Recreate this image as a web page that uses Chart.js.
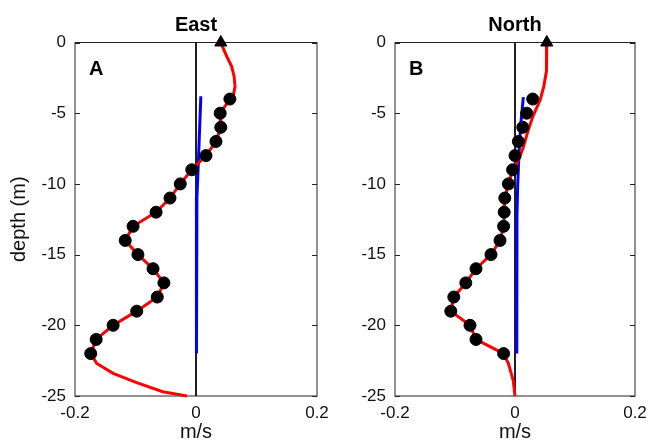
<!DOCTYPE html>
<html><head><meta charset="utf-8">
<script src="https://cdn.jsdelivr.net/npm/chart.js@4"></script>
<style>
html,body{margin:0;padding:0;background:#fff;}
#wrap{position:relative;width:650px;height:444px;overflow:hidden;}
canvas{position:absolute;top:0;}
#c1{left:0;} #c2{left:330px;}
</style></head><body>
<div id="wrap"><canvas id="c1" width="330" height="444"></canvas><canvas id="c2" width="320" height="444"></canvas></div>
<script>
// ---- data ----
const depthTicks = [0, -5, -10, -15, -20, -25];
const speedTicks = [-0.2, 0, 0.2];
const panelTitles = ['East', 'North'];
const panelLetters = ['A', 'B'];

const obsDepth = [-4,-5,-6,-7,-8,-9,-10,-11,-12,-13,-14,-15,-16,-17,-18,-19,-20,-21,-22];
const eastObs  = [0.056,0.040,0.041,0.033,0.0165,-0.007,-0.026,-0.043,-0.066,-0.104,-0.117,-0.096,-0.071,-0.053,-0.064,-0.098,-0.137,-0.165,-0.174];
const northObs = [0.0295,0.0195,0.013,0.0056,0.000,-0.004,-0.011,-0.017,-0.018,-0.019,-0.025,-0.040,-0.065,-0.082,-0.102,-0.107,-0.075,-0.065,-0.019];

// red model profile pieces
const eastTopDepth = [0,-0.5,-1,-1.7,-2.4,-3.1,-3.7];
const eastTopSpeed = [0.041,0.046,0.051,0.059,0.063,0.0645,0.062];
const eastBotDepth = [-22.7,-23.4,-24.05,-24.7,-25];
const eastBotSpeed = [-0.164,-0.137,-0.098,-0.055,-0.015];

const northTopDepth = [0,-1,-2,-3.1,-4.05,-5.2,-6.2,-7.4,-8.3];
const northTopSpeed = [0.053,0.053,0.052,0.048,0.042,0.030,0.022,0.014,0.006];
const northBotDepth = [-22.7,-23.9,-25];
const northBotSpeed = [-0.011,-0.003,0];

// blue profile
const eastBlueDepth = [-3.8,-7.8,-11,-16,-22];
const eastBlueSpeed = [0.008,0.0045,0.0015,0.001,0.0005];
const northBlueDepth = [-3.86,-5.9,-7.8,-10.2,-12.3,-17,-22];
const northBlueSpeed = [0.0139,0.0094,0.0067,0.0044,0.0033,0.003,0.003];

// surface triangles
const eastSurface = 0.041;
const northSurface = 0.053;
const zeroLineDepth = [0, -25];

// ---- helpers ----
const pts = (xs, ys) => xs.map((x, i) => ({x: x, y: ys[i]}));
const FAM = '"Liberation Sans", Arial, Helvetica, sans-serif';

const panelDeco = {
  id: 'panelDeco',
  beforeDatasetsDraw(chart, args, o) {
    const {ctx, chartArea: a, scales} = chart;
    ctx.save();
    ctx.strokeStyle = '#222';
    ctx.lineWidth = 1;
    ctx.strokeRect(a.left, a.top, a.right - a.left, a.bottom - a.top);
    ctx.beginPath();
    depthTicks.forEach(v => {
      const y = Math.round(scales.y.getPixelForValue(v)) + 0.5;
      ctx.moveTo(a.left, y); ctx.lineTo(a.left + 5, y);
      ctx.moveTo(a.right, y); ctx.lineTo(a.right - 5, y);
    });
    ctx.stroke();
    ctx.fillStyle = '#000';
    ctx.font = 'bold 20px ' + FAM;
    ctx.textAlign = 'center';
    ctx.textBaseline = 'alphabetic';
    ctx.fillText(o.title, (a.left + a.right) / 2, 31);
    ctx.textAlign = 'left';
    ctx.fillText(o.letter, a.left + 14, a.top + 32.5);
    ctx.restore();
  }
};

function makePanel(id, idx, obs, modelPts, bluePts, surf, yWidth, rightPad, showYTitle) {
  const datasets = [
    {data: [{x: surf, y: 0}], pointStyle: 'triangle', pointRadius: 7, pointBorderWidth: 1,
     backgroundColor: '#000', borderColor: '#000', showLine: false, order: 0, clip: false},
    {data: pts(obs, obsDepth), pointStyle: 'circle', pointRadius: 6, pointBorderWidth: 1,
     backgroundColor: '#000', borderColor: '#000', showLine: false, order: 1, clip: false},
    {data: modelPts, showLine: true, borderColor: '#ff0000', borderWidth: 3, pointRadius: 0,
     tension: 0, order: 2, clip: false},
    {data: bluePts, showLine: true, borderColor: '#0000ff', borderWidth: 3, pointRadius: 0,
     tension: 0, order: 3, clip: false},
    {data: zeroLineDepth.map(d => ({x: 0, y: d})), showLine: true, borderColor: '#000', borderWidth: 1,
     pointRadius: 0, order: 4}
  ];
  return new Chart(document.getElementById(id), {
    type: 'scatter',
    data: {datasets},
    plugins: [panelDeco],
    options: {
      responsive: false, animation: false, devicePixelRatio: 1,
      layout: {padding: {top: 42.5, right: rightPad, left: 0, bottom: 0}},
      plugins: {
        legend: {display: false}, tooltip: {enabled: false},
        panelDeco: {title: panelTitles[idx], letter: panelLetters[idx]}
      },
      scales: {
        x: {
          type: 'linear', min: -0.2, max: 0.2,
          afterBuildTicks: s => { s.ticks = speedTicks.map(v => ({value: v})); },
          afterFit: s => { s.height = 48; s.paddingLeft = 0; s.paddingRight = 0; s.paddingTop = 0; s.paddingBottom = 0; },
          grid: {display: false, drawTicks: false}, border: {display: false},
          ticks: {padding: 7, color: '#111', font: {size: 17, family: FAM}, maxRotation: 0,
                  callback: v => (v === 0 ? '0' : Number(v).toFixed(1))},
          title: {display: true, text: 'm/s', color: '#111', font: {size: 20, family: FAM},
                  padding: {top: 0, bottom: 0}}
        },
        y: {
          type: 'linear', min: -25, max: 0,
          afterBuildTicks: s => { s.ticks = depthTicks.map(v => ({value: v})); },
          afterFit: s => { s.width = yWidth; s.paddingTop = 0; s.paddingBottom = 0; },
          grid: {display: false, drawTicks: false}, border: {display: false},
          ticks: {padding: 9, color: '#111', font: {size: 17, family: FAM},
                  callback: v => String(v)},
          title: {display: showYTitle, text: 'depth (m)', color: '#111', font: {size: 20, family: FAM},
                  padding: {top: 7, bottom: 0}}
        }
      }
    }
  });
}

const eastModel = pts(eastTopSpeed, eastTopDepth).concat(pts(eastObs, obsDepth), pts(eastBotSpeed, eastBotDepth));
const northStart = obsDepth.indexOf(-9);
const northModel = pts(northTopSpeed, northTopDepth).concat(
  pts(northObs.slice(northStart), obsDepth.slice(northStart)), pts(northBotSpeed, northBotDepth));

makePanel('c1', 0, eastObs, eastModel, pts(eastBlueSpeed, eastBlueDepth), eastSurface, 75, 13, true);
makePanel('c2', 1, northObs, northModel, pts(northBlueSpeed, northBlueDepth), northSurface, 65, 15, false);
</script>
</body></html>
